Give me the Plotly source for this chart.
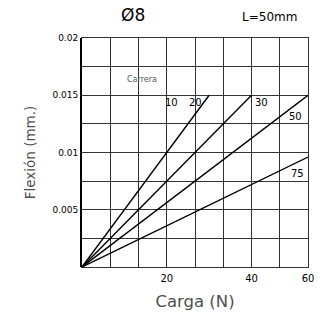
import plotly.graph_objects as go

# Deflection vs load for an Ø8 rod, L=50mm, one line per stroke ("Carrera")
carreras = ["10 20", "30", "50", "75"]
carga_fin = [33.75, 45.0, 60.0, 60.0]          # load at end of each line (N)
flexion_fin = [0.015, 0.015, 0.015, 0.0096]    # deflection at that load (mm)

x_tick_vals = [22.5, 45.0, 60.0]
x_tick_text = ["20", "40", "60"]
y_tick_vals = [0.005, 0.01, 0.015, 0.02]
y_tick_text = ["0.005", "0.01", "0.015", "0.02"]

FONT = "DejaVu Sans"
GRID = "#333333"

fig = go.Figure()
for name, xe, ye in zip(carreras, carga_fin, flexion_fin):
    fig.add_trace(go.Scatter(
        x=[0, xe], y=[0, ye], mode="lines", name=name,
        line=dict(color="black", width=1.4), showlegend=False,
        hoverinfo="skip", xaxis="x", yaxis="y",
    ))

# invisible trace so the label axes are drawn
fig.add_trace(go.Scatter(x=[0], y=[0], mode="markers", opacity=0,
                         showlegend=False, hoverinfo="skip",
                         xaxis="x2", yaxis="y2"))

line_labels = [
    ("10", 23.8, 0.01436),
    ("20", 30.0, 0.01436),
    ("30", 47.6, 0.01436),
    ("50", 56.6, 0.01313),
    ("75", 57.3, 0.00818),
]
for txt, lx, ly in line_labels:
    fig.add_annotation(x=lx, y=ly, text=txt, showarrow=False,
                       font=dict(family=FONT, size=10, color="black"),
                       xref="x", yref="y")
fig.add_annotation(x=15.8, y=0.01635, text="Carrera", showarrow=False,
                   font=dict(family=FONT, size=8, color="#555555"),
                   xref="x", yref="y")

# headings above the plot area
fig.add_annotation(x=(134 - 82) / 229, y=1 + (38 - 15) / 229, xref="paper",
                   yref="paper", text="Ø8", showarrow=False,
                   xanchor="center", yanchor="middle",
                   font=dict(family=FONT, size=17, color="black"))
fig.add_annotation(x=(272 - 82) / 229, y=1 + (38 - 17) / 229, xref="paper",
                   yref="paper", text="L=50mm", showarrow=False,
                   xanchor="center", yanchor="middle",
                   font=dict(family=FONT, size=12, color="black"))

fig.update_layout(
    width=326, height=320,
    margin=dict(l=82, r=15, t=38, b=53),
    paper_bgcolor="white", plot_bgcolor="white",
    xaxis=dict(range=[0, 60], tick0=0, dtick=7.5, showgrid=True,
               gridcolor=GRID, gridwidth=1, zeroline=False,
               showticklabels=False, ticks="", showline=True,
               linecolor=GRID, linewidth=1, mirror=True),
    yaxis=dict(range=[0, 0.02], tick0=0, dtick=0.0025, showgrid=True,
               gridcolor=GRID, gridwidth=1, zeroline=False,
               showticklabels=False, ticks="", showline=True,
               linecolor=GRID, linewidth=1, mirror=True),
    xaxis2=dict(range=[0, 60], overlaying="x", anchor="y", side="bottom",
                tickmode="array", tickvals=x_tick_vals, ticktext=x_tick_text,
                showgrid=False, zeroline=False, ticks="",
                ticklabelstandoff=4,
                tickfont=dict(family=FONT, size=10, color="black"),
                title=dict(text="Carga (N)", standoff=12,
                           font=dict(family=FONT, size=16.5, color="#505050"))),
    yaxis2=dict(range=[0, 0.02], overlaying="y", anchor="x", side="left",
                tickmode="array", tickvals=y_tick_vals, ticktext=y_tick_text,
                showgrid=False, zeroline=False, ticks="",
                tickfont=dict(family=FONT, size=9, color="black"),
                showline=True, linecolor="black", linewidth=2,
                title=dict(text="Flexión (mm.)", standoff=14,
                           font=dict(family=FONT, size=13.5, color="#505050"))),
)

fig.write_html("out.html")
